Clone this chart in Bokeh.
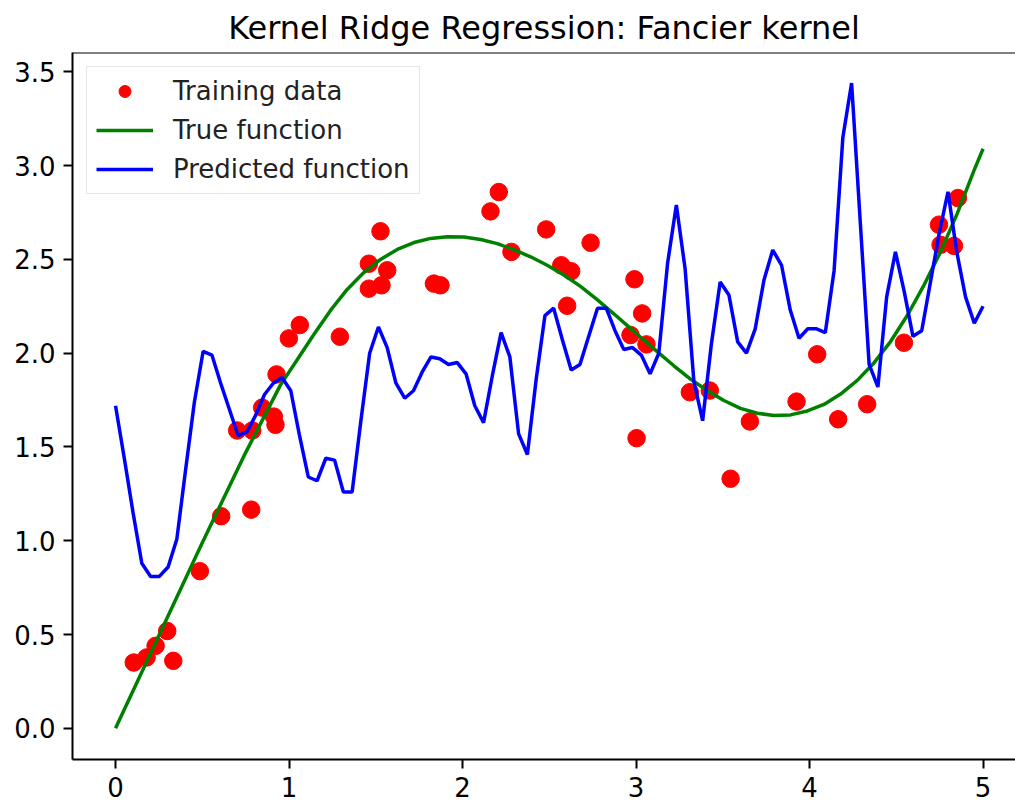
import numpy as np
from bokeh.plotting import figure
from bokeh.models import (Range1d, FixedTicker, PrintfTickFormatter, Legend,
                          LegendItem, Span)
from bokeh.embed import file_html
from bokeh.resources import INLINE

# ---------------- data ----------------
train_x = [0.105, 0.179, 0.231, 0.298, 0.333, 0.486, 0.609, 0.782, 0.701, 0.788,
           0.845, 0.913, 0.922, 0.928, 0.999, 1.062, 1.293, 1.527, 1.460, 1.566,
           1.460, 1.533, 1.835, 1.873, 2.161, 2.209, 2.282, 2.482, 2.569, 2.626,
           2.738, 2.603, 2.991, 3.035, 2.968, 3.060, 3.003, 3.310, 3.425, 3.545,
           3.656, 3.925, 4.044, 4.165, 4.332, 4.544, 4.746, 4.855, 4.755, 4.832]
train_y = [0.351, 0.378, 0.440, 0.519, 0.360, 0.838, 1.131, 1.166, 1.588, 1.588,
           1.710, 1.662, 1.618, 1.887, 2.079, 2.150, 2.088, 2.650, 2.477, 2.442,
           2.344, 2.362, 2.371, 2.362, 2.756, 2.859, 2.540, 2.660, 2.469, 2.437,
           2.589, 2.253, 2.394, 2.212, 2.097, 2.047, 1.547, 1.792, 1.801, 1.331,
           1.636, 1.742, 1.994, 1.648, 1.728, 2.056, 2.685, 2.827, 2.578, 2.572]

true_x = [0.0, 0.25, 0.5, 0.75, 0.951, 1.047, 1.143, 1.239, 1.335, 1.431,
          1.527, 1.624, 1.72, 1.816, 1.912, 2.008, 2.104, 2.2, 2.296, 2.392,
          2.488, 2.584, 2.68, 2.776, 2.872, 2.968, 3.026, 3.122, 3.218, 3.314,
          3.41, 3.506, 3.602, 3.699, 3.794, 3.89, 3.987, 4.083, 4.179, 4.275,
          4.371, 4.467, 4.563, 4.659, 4.755, 4.851, 4.947, 5.0]
true_y = [0.0, 0.495, 0.99, 1.47, 1.831, 1.965, 2.10, 2.228, 2.34, 2.43,
          2.50, 2.553, 2.59, 2.612, 2.621, 2.619, 2.606, 2.584, 2.552, 2.514,
          2.469, 2.417, 2.356, 2.286, 2.21, 2.132, 2.085, 2.008, 1.933, 1.862,
          1.801, 1.748, 1.706, 1.68, 1.668, 1.671, 1.692, 1.727, 1.782, 1.855,
          1.948, 2.062, 2.201, 2.362, 2.54, 2.744, 2.972, 3.09]

pred_x = np.linspace(0, 5, 100)
pred_y = [1.72, 1.44, 1.15, 0.88, 0.81, 0.81, 0.86, 1.01, 1.38, 1.74,
          2.01, 1.99, 1.84, 1.70, 1.56, 1.58, 1.67, 1.78, 1.84, 1.87,
          1.80, 1.56, 1.34, 1.32, 1.44, 1.43, 1.26, 1.26, 1.64, 2.00,
          2.14, 2.03, 1.84, 1.76, 1.80, 1.90, 1.98, 1.97, 1.94, 1.95,
          1.89, 1.72, 1.63, 1.88, 2.11, 1.98, 1.57, 1.46, 1.86, 2.20,
          2.24, 2.07, 1.91, 1.94, 2.09, 2.24, 2.24, 2.12, 2.02, 2.03,
          1.99, 1.89, 2.00, 2.48, 2.79, 2.45, 1.85, 1.64, 2.05, 2.38,
          2.31, 2.06, 2.00, 2.13, 2.39, 2.55, 2.47, 2.23, 2.08, 2.13,
          2.13, 2.11, 2.44, 3.15, 3.44, 2.69, 1.94, 1.82, 2.30, 2.54,
          2.33, 2.09, 2.12, 2.38, 2.64, 2.86, 2.54, 2.30, 2.16, 2.25]

x_ticks = [0, 1, 2, 3, 4, 5]
y_ticks = [0.0, 0.5, 1.0, 1.5, 2.0, 2.5, 3.0, 3.5]

FONT = "DejaVu Sans"

# ---------------- figure ----------------
p = figure(width=1015, height=804,
           x_range=Range1d(-0.248, 5.187), y_range=Range1d(-0.166, 3.603),
           output_backend="svg", toolbar_location=None,
           min_border_left=72, min_border_right=0,
           min_border_top=50, min_border_bottom=45,
           background_fill_color="white", border_fill_color="white")

p.title.text = "Kernel Ridge Regression: Fancier kernel"
p.title.text_font = FONT
p.title.text_font_size = "32px"
p.title.text_font_style = "normal"
p.title.text_color = "black"
p.title.align = "center"
p.title.standoff = 12

p.xgrid.visible = False
p.ygrid.visible = False
p.outline_line_color = None

p.xaxis.ticker = FixedTicker(ticks=x_ticks)
p.yaxis.ticker = FixedTicker(ticks=y_ticks)
p.yaxis.formatter = PrintfTickFormatter(format="%.1f")
for ax in (p.xaxis, p.yaxis):
    ax.axis_line_color = "black"
    ax.axis_line_width = 2
    ax.major_tick_line_color = "black"
    ax.major_tick_line_width = 2
    ax.major_tick_out = 9
    ax.major_tick_in = 0
    ax.minor_tick_line_color = None
    ax.major_label_text_font = FONT
    ax.major_label_text_font_size = "26px"
    ax.major_label_text_color = "black"
    ax.major_label_standoff = 8

p.add_layout(Span(location=3.603, dimension="width",
                  line_color="black", line_width=2))

r1 = p.scatter(train_x, train_y, size=17.5, color="red", marker="circle")
r2 = p.line(true_x, true_y, line_color="green", line_width=3.5)
r3 = p.line(pred_x, pred_y, line_color="blue", line_width=3.5)

legend = Legend(items=[LegendItem(label="Training data", renderers=[r1]),
                       LegendItem(label="True function", renderers=[r2]),
                       LegendItem(label="Predicted function", renderers=[r3])],
                location="top_left")
legend.margin = 14
legend.padding = 9
legend.spacing = 9
legend.glyph_width = 57
legend.glyph_height = 30
legend.label_height = 30
legend.label_standoff = 20
legend.label_text_font = FONT
legend.label_text_font_size = "26px"
legend.label_text_color = "#222222"
legend.border_line_color = "#cccccc"
legend.border_line_width = 1.5
legend.background_fill_alpha = 0.8
p.add_layout(legend)

open("out.html", "w").write(file_html(p, INLINE))
